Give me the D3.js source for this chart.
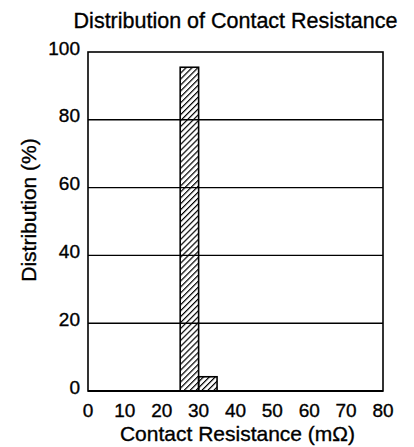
<!DOCTYPE html>
<html>
<head>
<meta charset="utf-8">
<script src="https://cdn.jsdelivr.net/npm/d3@7"></script>
<style>
  body { margin: 0; background: #fff; }
  text { font-family: "Liberation Sans", Arial, sans-serif; fill: #000; stroke: #000; stroke-width: 0.35px; }
</style>
</head>
<body>
<div id="chart"></div>
<script>
// data
var binStarts = [25, 30];
var binEnds = [30, 35];
var distribution = [95.5, 4.2];
var xTicks = [0, 10, 20, 30, 40, 50, 60, 70, 80];
var yTicks = [0, 20, 40, 60, 80, 100];

var margin = { top: 52, right: 31, bottom: 56, left: 88 },
  width = 414 - margin.left - margin.right,
  height = 447 - margin.top - margin.bottom;

var svg = d3.select("#chart")
  .append("svg")
  .attr("width", 414)
  .attr("height", 447);

// hatch pattern for the bars
svg.append("defs")
  .append("pattern")
  .attr("id", "hatch")
  .attr("patternUnits", "userSpaceOnUse")
  .attr("width", 4.2)
  .attr("height", 4.2)
  .attr("patternTransform", "rotate(45)")
  .append("line")
  .attr("x1", 0).attr("y1", 0)
  .attr("x2", 0).attr("y2", 4.2)
  .attr("stroke", "#000")
  .attr("stroke-width", 2.4);

var g = svg.append("g")
  .attr("transform", "translate(" + margin.left + "," + margin.top + ")");

var x = d3.scaleLinear().domain([0, 80]).range([0, width]);
var y = d3.scaleLinear().domain([0, 100]).range([height, 0]);

// horizontal grid lines
g.selectAll(".grid")
  .data(yTicks.filter(function(d) { return d > 0 && d < 100; }))
  .enter()
  .append("line")
  .attr("x1", 0)
  .attr("x2", width)
  .attr("y1", function(d) { return y(d); })
  .attr("y2", function(d) { return y(d); })
  .attr("stroke", "#000")
  .attr("stroke-width", 1.4);

// bars
g.selectAll("rect.bar")
  .data(distribution)
  .enter()
  .append("rect")
  .attr("class", "bar")
  .attr("x", function(d, i) { return x(binStarts[i]); })
  .attr("width", function(d, i) { return x(binEnds[i]) - x(binStarts[i]); })
  .attr("y", function(d) { return y(d); })
  .attr("height", function(d) { return height - y(d); })
  .attr("fill", "url(#hatch)")
  .attr("stroke", "#000")
  .attr("stroke-width", 1.6);

// frame
g.append("rect")
  .attr("x", 0).attr("y", 0)
  .attr("width", width).attr("height", height)
  .attr("fill", "none")
  .attr("stroke", "#000")
  .attr("stroke-width", 1.6);

g.append("line")
  .attr("x1", 0).attr("x2", width)
  .attr("y1", height).attr("y2", height)
  .attr("stroke", "#000")
  .attr("stroke-width", 2);

// y tick labels
g.selectAll(".ylab")
  .data(yTicks)
  .enter()
  .append("text")
  .attr("x", -8)
  .attr("y", function(d) { return y(d) - 4; })
  .attr("dy", "0.35em")
  .attr("text-anchor", "end")
  .style("font-size", "19px")
  .text(function(d) { return d; });

// x tick labels
g.selectAll(".xlab")
  .data(xTicks)
  .enter()
  .append("text")
  .attr("x", function(d) { return x(d); })
  .attr("y", height + 26)
  .attr("text-anchor", "middle")
  .style("font-size", "19px")
  .text(function(d) { return d; });

// titles
svg.append("text")
  .attr("x", margin.left + width / 2)
  .attr("y", 28)
  .attr("text-anchor", "middle")
  .style("font-size", "21.5px")
  .text("Distribution of Contact Resistance");

svg.append("text")
  .attr("x", margin.left + width / 2 + 2)
  .attr("y", 441)
  .attr("text-anchor", "middle")
  .style("font-size", "21px")
  .text("Contact Resistance (mΩ)");

svg.append("text")
  .attr("transform", "translate(36,210)rotate(-90)")
  .attr("text-anchor", "middle")
  .style("font-size", "21px")
  .text("Distribution (%)");
</script>
</body>
</html>
